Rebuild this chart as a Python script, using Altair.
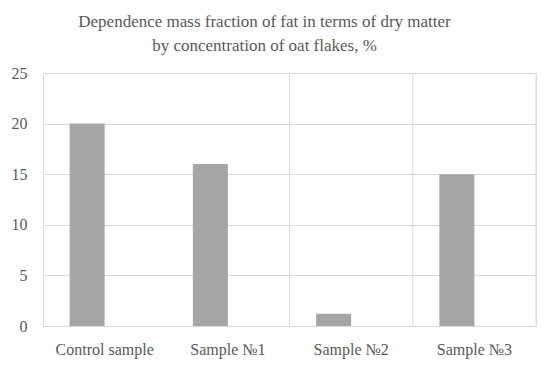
import altair as alt
import pandas as pd

categories = ["Control sample", "Sample №1", "Sample №2", "Sample №3"]
values = [20, 16, 1.2, 15]
series = ["Fat", "Fat", "Fat", "Fat"]
series_domain = ["Fat", "Other"]
grid_start_cats = ["Sample №2", "Sample №3"]
grid_end_cats = ["Sample №3"]
y_ticks = [0, 5, 10, 15, 20, 25]

FONT = "Liberation Serif"
TEXT = "#595959"
GRID = "#d9d9d9"

bars_df = pd.DataFrame({"cat": categories, "val": values, "series": series})
g1 = pd.DataFrame({"cat": grid_start_cats})
g2 = pd.DataFrame({"cat": grid_end_cats})

xscale = alt.Scale(domain=categories, paddingInner=0, paddingOuter=0)

bars = alt.Chart(bars_df).mark_bar(color="#a5a5a5").encode(
    x=alt.X("cat:N", scale=xscale, sort=categories,
            axis=alt.Axis(title=None, labelAngle=0, labelAlign="center",
                          bandPosition=0.5, ticks=False, grid=False,
                          domainColor=GRID, labelPadding=15)),
    xOffset=alt.XOffset("series:N", scale=alt.Scale(domain=series_domain, paddingInner=0, paddingOuter=0.7607)),
    y=alt.Y("val:Q", scale=alt.Scale(domain=[0, 25], nice=False),
            axis=alt.Axis(title=None, values=y_ticks, ticks=False, domain=False,
                          gridColor=GRID, labelPadding=16)),
)

rule1 = alt.Chart(g1).mark_rule(color=GRID, strokeWidth=1).encode(
    x=alt.X("cat:N", scale=xscale, bandPosition=0)
)
rule2 = alt.Chart(g2).mark_rule(color=GRID, strokeWidth=1).encode(
    x=alt.X("cat:N", scale=xscale, bandPosition=1)
)

chart = alt.layer(bars, rule1, rule2).properties(
    width=493,
    height=253,
    autosize=alt.AutoSizeParams(type="none"),
    padding={"left": 35, "top": 65, "right": 8, "bottom": 35},
    title=alt.TitleParams(
        text=["Dependence mass fraction of fat in terms of dry matter",
              "by concentration of oat flakes, %"],
        anchor="middle", dx=-25, lineHeight=24, offset=10,
    ),
).configure_view(stroke=None).configure(
    background="white", font=FONT
).configure_axis(
    labelFont=FONT, labelFontSize=16, labelColor=TEXT
).configure_title(
    font=FONT, fontSize=17, fontWeight="normal", color=TEXT
)

chart.save("out.html", embed_options={"renderer": "svg", "actions": False})
